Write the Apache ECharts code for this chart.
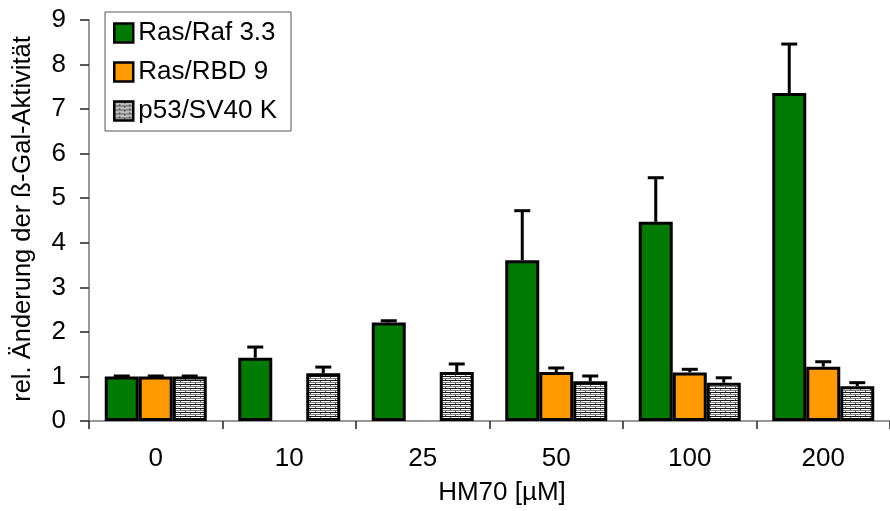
<!DOCTYPE html>
<html><head><meta charset="utf-8">
<script src="https://cdn.jsdelivr.net/npm/echarts@6/dist/echarts.min.js"></script>
<style>html,body{margin:0;padding:0;background:#fff}#c{width:890px;height:511px}</style>
</head><body><div id="c"></div>
<script>
const categories = ['0', '10', '25', '50', '100', '200'];
const seriesNames = ['Ras/Raf 3.3', 'Ras/RBD 9', 'p53/SV40 K'];
const rasRaf = [1.00, 1.42, 2.21, 3.61, 4.47, 7.36];
const rasRafErrTop = [1.01, 1.66, 2.25, 4.72, 5.46, 8.46];
const rasRBD = [1.00, null, null, 1.10, 1.09, 1.22];
const rasRBDErrTop = [1.01, null, null, 1.19, 1.16, 1.33];
const p53 = [1.00, 1.07, 1.10, 0.89, 0.86, 0.78];
const p53ErrTop = [1.01, 1.21, 1.28, 1.01, 0.97, 0.86];
const yTicks = [0, 1, 2, 3, 4, 5, 6, 7, 8, 9];

// stripe pattern for p53
const pc = document.createElement('canvas');
pc.width = 10; pc.height = 4;
const g = pc.getContext('2d');
g.fillStyle = '#ffffff'; g.fillRect(0, 0, 10, 4);
g.fillStyle = '#1a1a1a'; g.fillRect(0, 0, 10, 1);
g.fillStyle = '#7a7a7a'; g.fillRect(0, 2, 10, 1);
g.fillStyle = '#555555'; g.fillRect(0, 1, 1, 1); g.fillRect(5, 3, 1, 1);
const stripe = { image: pc, repeat: 'repeat' };

const colors = ['#007a00', '#ff9900', stripe];
const values = [rasRaf, rasRBD, p53];
const errTops = [rasRafErrTop, rasRBDErrTop, p53ErrTop];
const BAR_W = 34;

const errData = [];
values.forEach((vals, s) => {
  vals.forEach((v, i) => {
    if (v != null && errTops[s][i] != null) errData.push([i, v, errTops[s][i], s]);
  });
});

const font = 'Liberation Sans, Arial, sans-serif';
const chart = echarts.init(document.getElementById('c'), null, { renderer: 'canvas' });
chart.setOption({
  animation: false,
  backgroundColor: '#ffffff',
  textStyle: { fontFamily: font },
  grid: { left: 89, right: -10, top: 20, bottom: 90, containLabel: false },
  legend: {
    orient: 'vertical', left: 105, top: 12,
    padding: [8, 14, 7, 8], itemGap: 13,
    itemWidth: 19, itemHeight: 19,
    borderColor: '#555', borderWidth: 1, backgroundColor: '#fff',
    textStyle: { fontSize: 26, color: '#000', fontFamily: font },
    data: seriesNames.map(n => ({ name: n, icon: 'rect' })),
    itemStyle: { borderColor: '#000', borderWidth: 2.5 }
  },
  xAxis: {
    type: 'category', data: categories,
    axisLine: { lineStyle: { color: '#777', width: 1.5 } },
    axisTick: { show: true, length: 8, lineStyle: { color: '#222', width: 1.5 } },
    axisLabel: { fontSize: 26, color: '#000', margin: 25, fontFamily: font },
    splitLine: { show: false }
  },
  yAxis: {
    type: 'value', min: 0, max: 9, interval: 1,
    axisLine: { show: true, lineStyle: { color: '#777', width: 1.5 } },
    axisTick: { show: true, length: 9, lineStyle: { color: '#222', width: 1.5 } },
    axisLabel: { fontSize: 26, color: '#000', margin: 23, fontFamily: font,
      formatter: v => yTicks.includes(v) ? String(v) : '' },
    splitLine: { show: false }
  },
  graphic: [
    { type: 'text', x: 23, y: 219, rotation: Math.PI / 2,
      style: { text: 'rel. Änderung der ß-Gal-Aktivität', fontSize: 25.5, fontFamily: font,
        fill: '#000', align: 'center', verticalAlign: 'middle' } },
    { type: 'text', x: 502, y: 493,
      style: { text: 'HM70 [µM]', fontSize: 26, fontFamily: font,
        fill: '#000', align: 'center', verticalAlign: 'middle' } }
  ],
  series: [
    ...seriesNames.map((name, s) => ({
      name, type: 'bar', data: values[s], barWidth: BAR_W, barGap: '0%',
      itemStyle: { color: colors[s], borderColor: '#000', borderWidth: 3 },
      z: 2
    })),
    {
      type: 'custom', name: 'err', data: errData, z: 5, silent: true,
      encode: { x: 0, y: [1, 2] },
      renderItem: (params, api) => {
        const i = api.value(0), v = api.value(1), t = api.value(2), s = api.value(3);
        const base = api.coord([i, v]);
        const top = api.coord([i, t]);
        const x = base[0] + (s - 1) * BAR_W;
        const style = { stroke: '#000', lineWidth: 3 };
        return { type: 'group', children: [
          { type: 'line', shape: { x1: x, y1: base[1], x2: x, y2: top[1] }, style },
          { type: 'line', shape: { x1: x - 8, y1: top[1], x2: x + 8, y2: top[1] }, style }
        ] };
      }
    }
  ]
});
</script></body></html>
